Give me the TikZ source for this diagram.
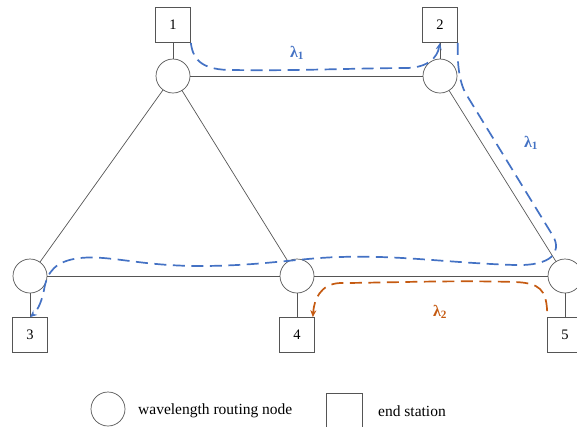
\documentclass[tikz,border=0pt]{standalone}
\usepackage{fontspec}
\setmainfont{Liberation Serif}
\usetikzlibrary{arrows.meta,calc}
\definecolor{pathblue}{HTML}{4472C4}
\definecolor{pathorange}{HTML}{C55A11}
\definecolor{linegray}{HTML}{555555}
\tikzset{
  router/.style={circle,draw=linegray,line width=0.7pt,minimum size=34pt,inner sep=0pt,fill=white},
  station/.style={rectangle,draw=linegray,line width=0.7pt,minimum size=35pt,inner sep=0pt,fill=white,font=\fontsize{14.5}{16}\selectfont},
  link/.style={draw=linegray,line width=0.7pt},
  lightpath/.style={line width=1.7pt,dash pattern=on 12pt off 6.5pt,-{Stealth[length=7pt,width=6pt]}},
  lam/.style={font=\fontsize{16}{18}\selectfont\bfseries},
  legendtext/.style={font=\fontsize{15.5}{18}\selectfont,anchor=west,inner sep=0pt}
}
\begin{document}
\begin{tikzpicture}[x=1pt,y=-1pt]
\useasboundingbox (0,0) rectangle (577,426);
% end stations
\node[station] (s1) at (173,25) {1};
\node[station] (s2) at (440,25) {2};
\node[station] (s3) at (30,335) {3};
\node[station] (s4) at (297,335) {4};
\node[station] (s5) at (565,335) {5};
% routers
\node[router] (A) at (173,76) {};
\node[router] (B) at (440,76) {};
\node[router] (C) at (30,276) {};
\node[router] (D) at (297,276) {};
\node[router] (E) at (565,276) {};
% links
\draw[link] (A) -- (B);
\draw[link] (A) -- (C);
\draw[link] (A) -- (D);
\draw[link] (B) -- (E);
\draw[link] (C) -- (D);
\draw[link] (D) -- (E);
\draw[link] (s1) -- (A);
\draw[link] (s2) -- (B);
\draw[link] (s3) -- (C);
\draw[link] (s4) -- (D);
\draw[link] (s5) -- (E);
% lightpath lambda1 : 1 -> 2
\draw[lightpath,pathblue] (s1.south east) .. controls (193,62) and (205,70) .. (232,70)
  .. controls (300,71) and (360,68) .. (408,68)
  .. controls (428,67) and (437,58) .. (s2.south);
% lightpath lambda1 : 2 -> 3
\draw[lightpath,pathblue] (s2.south east) .. controls (457,62) and (459,82) .. (466,94)
  -- (553,236)
  .. controls (562,252) and (552,266) .. (515,265)
  .. controls (450,263) and (400,255) .. (340,257)
  .. controls (300,258) and (260,266) .. (200,266)
  .. controls (140,266) and (110,255) .. (80,258)
  .. controls (55,261) and (47,272) .. (44,290)
  .. controls (41,305) and (36,312) .. (s3.north);
% lightpath lambda2 : 5 -> 4
\coordinate (o5) at ($(s5.north west)+(0,-6)$);
\draw[lightpath,pathorange] (o5) .. controls (546,290) and (540,283) .. (515,282)
  .. controls (450,280) and (380,283) .. (340,283)
  .. controls (320,284) and (314,300) .. ($(s4.north east)+(-2,0)$);
% labels
\node[lam,text=pathblue] (l1a) at (297,53) {λ\textsubscript{1}};
\node[lam,text=pathblue] (l1b) at (531,143) {λ\textsubscript{1}};
\node[lam,text=pathorange] (l2) at (440,312) {λ\textsubscript{2}};
% legend
\node[router] (legc) at (108,409) {};
\node[legendtext] (legct) at (138,411) {wavelength routing node};
\node[station,minimum size=36pt] (legs) at (344,411) {};
\node[legendtext] (legst) at (378,411) {end station};
\end{tikzpicture}
\end{document}
